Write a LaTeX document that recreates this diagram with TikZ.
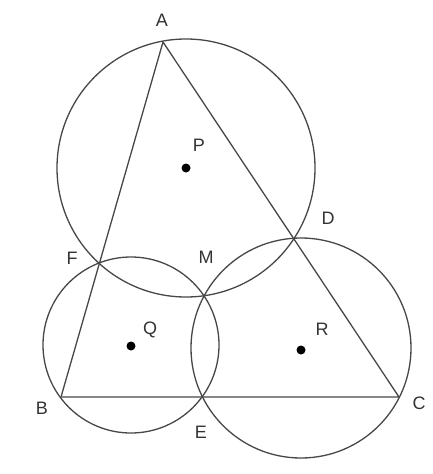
\documentclass[tikz,border=0pt]{standalone}
\usepackage{fontspec}
\setmainfont{Liberation Sans}
\begin{document}
\begin{tikzpicture}[x=1pt,y=-1pt,
  geo/.style={draw=black!72,line width=1.3pt},
  lbl/.style={font=\fontsize{18}{18}\selectfont, text=black!80, inner sep=0pt},
  ctr/.style={circle,fill=black,inner sep=0pt,minimum size=9pt}]
\useasboundingbox (0,0) rectangle (433,474);
\fill[white] (0,0) rectangle (433,474);
% points
\coordinate (A) at (163,42);
\coordinate (B) at (61,397);
\coordinate (C) at (399,397);
\coordinate (D) at (294,239);
\coordinate (E) at (202,397);
\coordinate (F) at (98,263);
\coordinate (M) at (203,296);
% centres
\node[ctr] (P) at (186,168) {};
\node[ctr] (Q) at (131,346) {};
\node[ctr] (R) at (301,350) {};
% circles
\draw[geo] (186,168) circle (129);
\draw[geo] (131,345) circle (88);
\draw[geo] (301,348) circle (110);
% triangle
\draw[geo,line join=round] (A) -- (B) -- (C) -- cycle;
% labels
\node[lbl] (lA) at (162,20) {A};
\node[lbl] (lP) at (199,145) {P};
\node[lbl] (lD) at (328,218) {D};
\node[lbl] (lF) at (72,258) {F};
\node[lbl] (lM) at (206,257) {M};
\node[lbl] (lQ) at (150,330) {Q};
\node[lbl] (lR) at (322,329) {R};
\node[lbl] (lB) at (42,408) {B};
\node[lbl] (lC) at (419,403) {C};
\node[lbl] (lE) at (201,432) {E};
\end{tikzpicture}
\end{document}
